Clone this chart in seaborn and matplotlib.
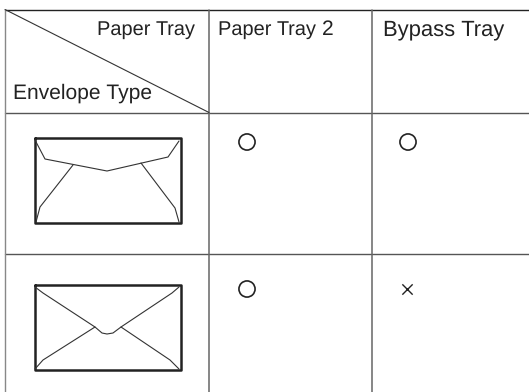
import matplotlib
matplotlib.use("Agg")
import matplotlib.pyplot as plt
import pandas as pd
import seaborn as sns

# Table rules (image pixel coordinates)
grid_x = [5, 209, 372]
grid_y = [9.5, 112.5, 254]
W, H = 529, 392

headers = ["Paper Tray", "Envelope Type", "Paper Tray", "2", "Bypass Tray"]
header_x = [195, 13, 218, 322, 383]
header_y = [35, 98.5, 35, 35, 35]
header_ha = ["right", "left", "left", "left", "left"]
header_size = [14.4, 14.8, 14.4, 14.8, 15.7]

# Support marks
circle_x = [247, 408, 247]
circle_y = [142, 142, 289]
cross_x = [407]
cross_y = [289]

# Envelope outlines
box_x = [34.5, 180.5, 180.5, 34.5, 34.5]
box1_y = [138, 138, 223, 223, 138]
box2_y = [285, 285, 370, 370, 285]

# Envelope detail lines
env1_flap_x = [35, 45, 107, 168, 179]
env1_flap_y = [140, 159, 171, 157, 141]
env1_left_x = [73, 40, 36]
env1_left_y = [165, 207, 222]
env1_right_x = [141, 175, 179]
env1_right_y = [163, 208, 222]
env2_flap_x = [35, 43, 95, 102, 107, 113, 121, 172, 179]
env2_flap_y = [287, 293, 327, 333, 334, 333, 327, 293, 287]
env2_left_x = [95, 43, 35]
env2_left_y = [327, 360, 369]
env2_right_x = [121, 170, 179]
env2_right_y = [327, 360, 369]

sns.set_theme(style="white")
plt.rcParams["font.family"] = ["Liberation Sans", "DejaVu Sans"]
plt.rcParams["text.hinting"] = "none"
plt.rcParams["text.hinting_factor"] = 1

fig = plt.figure(figsize=(W / 100, H / 100), dpi=100, facecolor="white")
ax = fig.add_axes([0, 0, 1, 1])


def draw(segments, color, lw):
    rows = [(i, x, y) for i, (xs, ys) in enumerate(segments) for x, y in zip(xs, ys)]
    df = pd.DataFrame(rows, columns=["seg", "x", "y"])
    sns.lineplot(data=df, x="x", y="y", units="seg", estimator=None, sort=False,
                 color=color, linewidth=lw, ax=ax, legend=False)


# Table rules
draw([([grid_x[0], W], [grid_y[0], grid_y[0]])], "#222222", 1.0)
draw([([grid_x[0], W], [y, y]) for y in grid_y[1:]], "#555555", 1.0)
draw([([x, x], [grid_y[0], H]) for x in grid_x[1:]], "#666666", 1.1)
draw([([grid_x[0], grid_x[0]], [grid_y[0], H])], "#888888", 1.0)
draw([([grid_x[0], grid_x[1]], [grid_y[0], grid_y[1]])], "#333333", 0.8)

# Envelopes
draw([(box_x, box1_y), (box_x, box2_y)], "#222222", 1.8)
draw([(env1_flap_x, env1_flap_y), (env1_left_x, env1_left_y), (env1_right_x, env1_right_y),
      (env2_flap_x, env2_flap_y), (env2_left_x, env2_left_y), (env2_right_x, env2_right_y)],
     "#333333", 0.8)

# Support marks
sns.scatterplot(x=circle_x, y=circle_y, marker="o", s=135, facecolor="none",
                edgecolor="#222222", linewidth=1.2, ax=ax, legend=False)
sns.scatterplot(x=cross_x, y=cross_y, marker="x", s=55, color="#222222",
                linewidth=1.0, ax=ax, legend=False)

for label, x, y, ha, size in zip(headers, header_x, header_y, header_ha, header_size):
    ax.text(x, y, label, ha=ha, va="baseline", fontsize=size, color="#222222")

ax.set_xlim(0, W)
ax.set_ylim(H, 0)
ax.set_xlabel("")
ax.set_ylabel("")
ax.axis("off")
fig.savefig("out.png", dpi=100, facecolor="white")
